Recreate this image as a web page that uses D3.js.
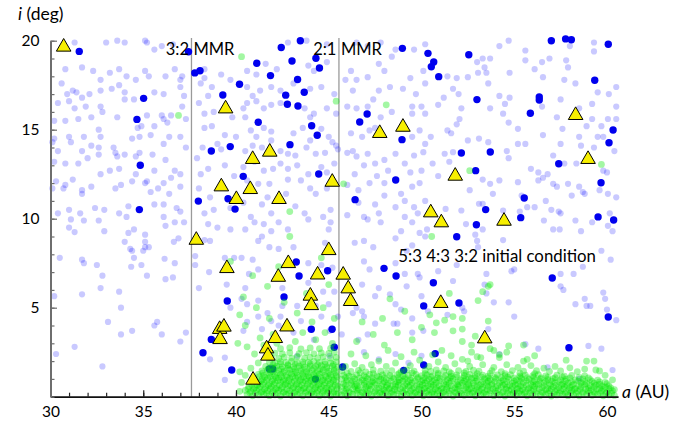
<!DOCTYPE html>
<html>
<head>
<meta charset="utf-8">
<script src="https://cdn.jsdelivr.net/npm/d3@7"></script>
<style>
  html, body { margin: 0; padding: 0; background: #fff; }
  svg { display: block; font-family: Lato, "Open Sans", sans-serif; }
</style>
</head>
<body>
<svg id="chart" width="690" height="421"></svg>
<script>
// Semi-major axis a (AU) vs inclination i (deg)

const xTicks = [30, 35, 40, 45, 50, 55, 60];
const yTicks = [5, 10, 15, 20];

// mean-motion resonance locations (AU)
const resonances = [
  { name: "3:2", a: 37.6 },
  { name: "2:1", a: 45.55 }
];

// background population (faint blue)
const lightBlue = [
[31.3,19.9],[33.0,19.9],[33.6,20.0],[34.0,19.9],[35.1,20.0],[35.2,19.9],[35.6,19.5],[36.0,19.7],[36.6,19.8],[30.8,18.4],[31.7,18.5],[32.3,18.3],[32.7,17.8],[33.2,18.2],[33.7,18.4],[34.1,18.0],[34.6,17.8],[35.1,18.3],[35.3,18.0],[36.2,18.0],[36.7,18.4],[37.0,17.8],[37.1,18.0],[30.6,17.6],[31.2,17.2],[30.9,17.0],[31.4,17.1],[31.7,16.8],[32.1,17.0],[32.7,17.2],[33.3,17.3],[33.7,17.5],[34.0,17.1],[34.5,16.7],[35.6,17.1],[36.1,17.0],[37.0,17.4],[37.2,16.9],[30.4,16.5],[31.0,16.6],[31.3,16.2],[31.9,16.3],[32.7,16.3],[34.0,16.7],
[35.2,15.8],[36.0,15.8],[36.1,15.6],[36.5,15.8],[37.1,16.3],[37.3,15.6],[30.2,15.5],[30.8,15.5],[31.5,15.6],[32.2,15.7],[32.8,16.0],[33.6,15.7],[34.7,15.1],[34.9,15.2],[35.6,15.2],[36.3,15.4],[32.6,15.0],[31.8,14.6],[31.0,14.6],[30.2,14.5],[30.1,14.3],[30.4,13.8],[31.1,14.3],[31.7,13.8],[32.2,14.1],[32.7,14.6],[32.6,14.0],[33.4,14.0],[33.5,13.7],[34.4,14.5],[34.8,14.6],[35.4,14.7],[36.1,14.2],[36.4,14.6],[37.0,14.6],[37.3,14.0],
[30.2,13.2],[30.8,13.1],[31.5,13.1],[32.0,13.4],[32.6,13.6],[33.6,13.5],[34.0,13.6],[34.6,13.5],[34.8,13.7],[35.5,13.6],[36.2,13.3],[36.7,12.7],[30.3,12.1],[30.8,11.9],[31.2,12.2],[31.7,11.6],[32.2,11.8],[32.7,12.5],[33.2,12.7],[33.7,12.8],[34.6,12.5],[35.2,12.1],[35.6,12.7],[36.1,12.0],[36.5,12.3],[37.0,12.5],[30.1,11.7],[30.7,11.7],[31.7,11.4],[33.5,11.7],[33.8,11.9],[34.4,12.1],[35.1,12.0],[35.4,11.5],[35.8,11.7],[36.4,11.4],[37.0,11.8],[30.4,10.3],[31.0,10.5],[31.6,10.3],[32.4,10.6],[32.9,10.5],[33.7,10.3],[34.2,10.7],[35.6,10.8],[36.1,10.8],[36.8,10.6],[37.0,10.4],
[38.3,18.4],[38.3,17.9],[38.1,17.6],[39.2,18.1],[39.7,17.8],[38.7,17.4],[38.5,16.9],[38.0,16.5],[38.3,15.9],[38.8,16.0],[39.8,15.7],[38.7,15.2],[38.3,15.1],[40.0,14.6],[39.4,14.7],[39.0,14.2],[38.2,14.0],[39.2,13.9],[37.9,13.4],[38.5,12.8],[39.4,13.0],[39.9,12.4],[38.1,12.5],[38.0,11.7],[38.6,11.2],[38.8,10.5],[39.7,10.6],[38.3,10.3],
[42.8,19.9],[43.8,20.0],[44.9,19.8],[46.5,19.9],[47.1,19.7],[47.8,19.9],[48.6,19.5],[49.6,19.5],[50.2,19.8],[40.6,18.3],[41.1,18.1],[41.6,18.7],[42.2,18.4],[43.9,18.6],[44.2,18.3],[44.9,18.8],[46.2,18.3],[46.5,17.8],[45.9,17.8],[47.1,17.95],[47.7,18.7],[48.0,18.3],[48.4,19.1],[49.4,17.9],[50.1,18.3],
[40.6,17.4],[40.9,16.9],[41.3,17.2],[41.9,17.4],[42.4,17.2],[43.1,17.6],[44.0,17.3],[44.6,17.4],[45.3,17.0],[46.3,17.2],[47.4,16.7],[47.7,17.2],[48.3,17.4],[49.0,17.3],[49.7,17.0],[50.2,17.6],
[40.4,16.2],[40.6,16.5],[41.1,16.6],[41.5,16.2],[41.9,16.4],[42.4,16.5],[43.7,16.2],[44.0,15.7],[44.2,15.9],[44.9,16.2],[45.4,15.9],[46.0,16.3],[46.5,16.2],[47.1,16.3],[47.8,15.7],[48.4,16.0],[49.5,16.3],[50.0,16.3],[50.2,15.9],[49.5,15.9],
[40.5,15.7],[40.8,14.96],[41.1,14.6],[41.5,15.1],[41.9,14.9],[43.1,14.8],[43.6,15.1],[44.0,14.4],[44.6,15.05],[45.0,14.6],[45.2,14.3],[45.4,14.1],[46.2,14.8],[46.8,14.6],[47.2,14.96],[47.5,15.1],[49.5,14.6],[49.9,14.96],[50.2,14.2],
[40.5,13.8],[40.9,14.1],[41.4,14.0],[41.9,14.4],[42.4,13.8],[42.8,13.65],[43.2,13.55],[43.8,14.0],[44.3,13.65],[44.8,13.7],[45.5,13.9],[46.0,13.7],[46.3,13.8],[46.5,13.5],[47.1,13.65],[47.5,13.1],[48.0,13.3],[48.6,13.65],[49.1,13.1],[49.6,13.55],[50.1,13.74],
[40.4,12.9],[41.0,13.2],[41.5,12.7],[42.0,12.8],[42.4,13.1],[42.8,12.8],[43.3,13.0],[43.9,12.5],[44.6,12.9],[44.9,12.6],[45.3,13.1],[46.4,12.5],[46.9,13.0],[47.6,12.4],[48.2,12.7],[49.4,12.6],[50.0,12.7],
[40.6,12.15],[41.2,11.96],[41.8,11.96],[42.8,12.2],[43.5,12.15],[44.0,11.7],[44.9,11.7],[46.0,11.9],[46.6,11.6],[47.2,12.0],[48.0,12.0],[48.9,11.4],[49.5,11.8],[49.9,12.0],
[40.4,10.9],[41.4,10.8],[41.7,11.2],[42.7,11.4],[43.2,10.7],[44.3,11.4],[45.1,10.5],[46.6,10.9],[47.5,10.8],[48.0,11.3],[48.6,10.65],[49.1,11.0],[49.6,10.65],[50.2,11.0],
[40.8,10.1],[41.9,10.3],[43.7,10.3],[44.7,10.1],[46.0,10.2],[46.9,10.1],[47.7,10.3],[49.1,10.1],[49.8,10.3],
[54.2,19.7],[54.7,20.0],[55.6,19.45],[55.6,18.9],[56.1,18.4],[56.5,18.8],[56.9,19.0],[57.8,18.9],[57.9,18.5],[58.0,19.7],[59.3,19.9],[59.3,19.4],[53.3,19.0],[53.7,19.0],[53.0,18.8],[53.4,18.5],[53.05,18.2],[53.5,18.2],[51.4,18.0],[51.9,17.9],[52.5,17.95],[53.6,17.6],[54.75,18.2],[56.55,17.95],[57.7,17.8],[58.3,17.6],[59.5,17.1],[60.1,17.0],[60.5,17.4],
[51.2,16.8],[51.7,17.3],[52.0,17.0],[54.2,16.9],[54.75,16.8],[50.9,16.4],[52.15,16.2],[53.7,16.2],[54.5,16.45],[56.5,16.3],[57.5,16.7],[57.3,15.7],[58.5,16.2],[59.2,16.45],[60.5,16.3],[60.5,15.6],[52.05,15.6],[51.9,15.3],[54.4,15.9],[55.2,15.05],[57.6,15.05],[58.5,14.6],[58.9,15.2],[59.2,15.6],[59.7,15.2],[59.5,14.6],[59.8,14.6],[60.05,15.6],
[50.5,14.6],[51.4,14.96],[51.6,14.8],[52.5,14.4],[53.1,14.5],[53.6,14.3],[54.7,15.4],[55.2,14.2],[55.6,14.2],[56.55,14.7],[57.5,14.2],[58.6,14.1],[59.3,14.0],[60.4,13.8],[51.25,13.65],[51.7,13.74],[54.6,13.8],[54.7,13.4],[55.9,12.8],[56.3,12.6],[57.1,13.55],[57.7,13.1],[58.35,13.1],[59.8,12.7],[60.0,12.6],[50.6,13.1],[50.9,12.4],[51.5,13.2],
[53.3,12.2],[53.7,11.96],[54.2,12.15],[55.2,12.05],[56.3,12.15],[56.55,12.3],[56.8,12.5],[57.1,11.96],[57.3,11.8],[57.9,11.96],[58.5,11.8],[58.7,11.5],[59.6,11.6],[60.05,11.4],[52.6,11.6],[53.85,11.4],[55.4,11.3],[55.7,10.65],[56.1,10.65],[56.7,11.0],[57.0,10.5],[57.4,10.4],[58.1,11.3],[58.8,11.4],[60.5,11.2],[51.3,10.55],[52.15,10.46],[53.1,10.84],[53.3,10.84],[54.4,10.46],[55.3,10.4],[57.5,10.3],[60.15,10.3],
[31.1,9.96],[31.8,9.9],[32.6,9.9],[34.1,10.1],[36.1,10.1],[36.7,9.8],[37.2,9.8],[38.5,9.7],[39.0,9.5],[39.7,9.4],[31.0,9.5],[31.3,9.25],[32.9,9.3],[34.2,9.2],[34.5,9.4],[35.1,9.1],[36.2,9.6],[36.9,8.9],[36.65,8.7],[34.0,8.7],[34.3,8.3],[34.4,8.2],[35.1,8.7],[35.1,8.4],[35.3,8.4],[35.0,8.2],[34.5,7.8],[36.15,7.75],[36.7,7.5],[34.35,7.3],[34.9,7.4],[32.5,7.4],[31.7,7.7],[31.8,7.5],[30.5,7.8],[37.8,7.9],[37.8,7.4],[38.3,8.8],[38.6,8.75],[39.4,7.8],[39.9,7.8],
[32.8,6.8],[35.2,6.8],[36.2,6.6],[36.6,6.7],[32.7,6.1],[33.7,5.9],[31.7,5.75],[30.2,5.65],[38.0,6.1],[39.5,6.3],[33.8,5.0],[39.7,5.0],[33.1,4.2],[35.6,4.0],[35.75,4.2],[34.4,3.7],[33.8,3.5],[36.0,3.5],[37.3,3.6],[37.0,3.1],[31.3,2.8],[30.3,2.4],[38.6,2.1],[39.4,2.2],[32.8,1.7],[39.4,0.94],[38.55,7.0],
[40.5,9.4],[41.0,9.8],[41.5,9.7],[41.9,9.3],[42.3,9.8],[42.8,9.4],[43.9,9.96],[45.0,9.4],[45.1,9.8],[47.1,9.96],[47.8,9.8],[48.9,9.3],[49.5,9.8],[49.9,9.2],[50.3,9.4],[41.2,8.75],[41.4,9.0],[41.8,8.4],[40.9,7.7],[40.3,7.8],[42.3,8.3],[43.1,8.4],[44.8,8.65],[46.4,8.65],[46.9,8.75],[47.4,8.4],[48.6,8.9],[49.2,8.2],[49.5,8.5],[50.2,9.0],
[40.7,6.9],[41.2,7.15],[43.9,7.5],[44.6,7.4],[45.2,7.25],[46.9,7.6],[47.2,7.15],[48.6,7.5],[49.1,6.9],[49.8,6.9],[49.9,6.7],[40.5,6.1],[42.5,6.1],[43.9,6.4],[44.7,5.9],[45.3,5.9],[46.8,6.3],[47.7,6.1],[48.3,5.75],[49.2,6.2],[50.0,5.65],
[40.3,5.5],[40.6,5.2],[41.2,5.4],[41.7,4.7],[42.5,5.1],[43.3,5.1],[44.3,5.1],[45.0,5.2],[46.5,5.0],[46.8,4.8],[47.5,5.65],[48.6,5.2],[48.9,4.9],[40.6,4.2],[41.2,4.5],[41.9,4.25],[42.4,4.5],[43.5,4.25],[44.6,4.5],[45.5,4.5],[46.3,4.7],[46.9,4.5],[47.5,4.1],[48.5,4.1],[48.7,4.1],[49.5,4.4],[50.35,4.8],
[40.4,3.7],[41.4,3.8],[42.3,4.0],[43.1,3.6],[44.2,3.2],[45.05,3.7],[45.7,3.5],[46.6,3.2],[47.1,3.5],[49.5,3.6],[50.1,3.7],[43.3,2.3],[45.05,2.3],[46.9,2.5],[47.7,2.1],[48.6,2.4],[49.3,1.9],[50.0,2.3],
[52.4,9.7],[52.9,9.1],[53.3,9.4],[56.6,9.9],[57.1,9.4],[57.45,9.4],[58.3,9.9],[58.6,9.3],[59.2,9.8],[60.05,9.6],[60.3,9.3],[53.0,8.75],[53.05,8.4],[54.4,8.8],[59.7,8.2],[60.2,7.7],[50.9,7.05],[51.9,7.4],[53.5,6.9],[54.85,7.05],[55.0,7.15],[57.5,6.9],[58.2,6.9],[58.7,7.3],[51.7,6.5],[51.4,4.6],[52.2,5.0],[52.3,4.8],
[53.4,6.3],[53.5,5.8],[53.9,5.3],[54.7,5.3],[55.0,4.5],[53.6,3.8],[57.5,6.2],[57.65,6.0],[58.3,5.2],[58.8,5.5],[58.9,5.1],[59.1,5.1],[59.8,5.85],[59.9,5.5],[60.0,4.9],[60.5,4.3],[55.6,2.95],[56.3,2.7],[54.2,2.4],[59.0,2.85],[59.7,2.7],[56.8,1.65],[60.3,1.5],[58.5,1.0]
];

// selected objects (solid blue)
const darkBlue = [
[31.55,19.4],[37.44,19.38],[37.78,18.19],[38.06,18.31],[40.19,17.55],[39.29,16.95],[35.02,16.76],[34.66,15.58],[39.69,14.05],[38.67,13.8],[34.84,13.0],[37.97,10.99],[39.57,11.12],[39.95,10.54],[34.79,10.51],
[43.47,20.0],[42.44,19.62],[48.97,19.57],[41.12,18.73],[43.02,18.86],[44.31,19.01],[44.5,18.47],[41.86,18.04],[43.32,17.82],[43.68,17.1],[42.68,16.94],[42.77,16.43],[43.34,16.33],[41.2,15.42],[44.08,15.22],[44.38,14.69],[42.91,14.16],[47.07,15.88],[46.67,15.43],[48.95,14.44],[40.39,12.38],[44.46,12.51],[48.61,12.17],[46.42,11.07],
[50.35,19.29],[50.66,18.8],[50.53,18.54],[50.93,17.98],[52.55,19.21],[57.0,20.0],[57.77,20.1],[58.08,20.05],[60.07,19.8],[59.34,17.78],[52.99,16.69],[56.35,16.84],[56.35,16.67],[55.87,15.92],[60.33,14.98],[60.11,14.27],[52.15,13.69],[53.71,13.75],[57.4,13.09],[52.92,12.7],[59.68,12.02],[55.54,11.16],[53.46,10.51],[59.52,10.1],[55.35,10.06],[52.96,9.66],[51.9,8.99],[60.36,9.93],[50.64,6.4],[52.02,5.26],[57.05,6.67],[60.07,4.48],[57.95,2.75],[50.74,2.42],
[43.25,7.57],[43.4,6.78],[44.94,7.08],[42.59,5.6],[47.98,7.21],[48.63,6.78],[50.12,5.1],[44.06,3.79],[45.18,3.79],[45.3,2.78],[45.75,1.67],[41.8,1.56],[41.98,1.56],[44.28,0.99],[49.04,1.48],[50.12,1.78],[39.53,5.38],[38.67,3.22],[38.22,2.47],[39.77,1.5]
];

// low-inclination population (green)
const green = [
[45.7,0.1],[46.0,0.05],[46.3,0.14],[46.7,0.08],[47.0,0.12],[47.3,0.04],[47.6,0.1],[47.9,0.15],[48.2,0.06],[48.5,0.11],[48.9,0.03],[49.2,0.13],[49.5,0.07],[49.8,0.12],[50.1,0.05],[50.4,0.1],[50.7,0.14],[51.0,0.06],[51.3,0.1],[51.7,0.04],[52.0,0.12],[52.3,0.08],[52.6,0.15],[52.9,0.05],[53.2,0.1],[53.5,0.13],[53.9,0.06],[54.2,0.1],[54.5,0.04],[54.8,0.12],[55.1,0.08],[55.4,0.14],[55.7,0.05],[56.0,0.1],[56.4,0.07],[56.7,0.13],[57.0,0.04],[57.3,0.1],[57.6,0.15],[57.9,0.06],[58.2,0.1],[58.5,0.05],[58.9,0.12],[59.2,0.08],[59.5,0.14],[59.8,0.05],[60.1,0.1],[60.4,0.07],
[45.85,0.2],[46.15,0.22],[46.5,0.18],[46.85,0.21],[47.15,0.19],[47.45,0.23],[47.75,0.18],[48.05,0.21],[48.35,0.2],[48.7,0.17],[49.05,0.22],[49.35,0.19],[49.65,0.21],[49.95,0.18],[50.25,0.22],[50.55,0.2],[50.85,0.17],[51.15,0.21],[51.5,0.19],[51.85,0.22],[52.15,0.18],[52.45,0.21],[52.75,0.2],[53.05,0.23],[53.35,0.18],[53.7,0.21],[54.05,0.19],[54.35,0.22],[54.65,0.18],[54.95,0.2],[55.25,0.22],[55.55,0.19],[55.85,0.21],[56.2,0.18],[56.55,0.22],[56.85,0.2],[57.15,0.17],[57.45,0.21],[57.75,0.19],[58.05,0.22],[58.35,0.18],[58.7,0.2],[59.05,0.22],[59.35,0.19],[59.65,0.21],[59.95,0.18],[60.25,0.2],
[45.8,0.32],[46.1,0.28],[46.5,0.35],[46.8,0.25],[47.1,0.33],[47.5,0.3],[47.8,0.26],[48.0,0.36],[48.4,0.29],[48.7,0.34],[49.0,0.27],[49.4,0.32],[49.7,0.25],[50.0,0.35],[50.3,0.3],[50.6,0.27],[50.9,0.34],[51.2,0.29],[51.5,0.33],[51.8,0.26],[52.1,0.31],[52.5,0.36],[52.8,0.28],[53.1,0.33],[53.4,0.26],[53.7,0.34],[54.0,0.3],[54.4,0.27],[54.7,0.35],[55.0,0.29],[55.3,0.32],[55.6,0.26],[55.9,0.35],[56.2,0.3],[56.5,0.27],[56.9,0.34],[57.2,0.29],[57.5,0.33],[57.8,0.26],[58.1,0.35],[58.4,0.3],[58.7,0.27],[59.0,0.34],[59.3,0.28],[59.7,0.32],[60.0,0.26],[60.3,0.33],
[45.95,0.42],[46.3,0.44],[46.6,0.4],[46.95,0.43],[47.25,0.41],[47.6,0.45],[47.95,0.4],[48.25,0.43],[48.55,0.41],[48.85,0.44],[49.15,0.4],[49.5,0.43],[49.85,0.41],[50.15,0.45],[50.45,0.4],[50.75,0.43],[51.05,0.41],[51.35,0.44],[51.65,0.4],[51.95,0.43],[52.3,0.41],[52.6,0.45],[52.95,0.4],[53.25,0.43],[53.55,0.41],[53.85,0.44],[54.15,0.4],[54.55,0.43],[54.85,0.41],[55.15,0.44],[55.45,0.4],[55.75,0.43],[56.05,0.41],[56.35,0.45],[56.7,0.4],[57.0,0.43],[57.3,0.41],[57.65,0.44],[57.95,0.4],[58.25,0.43],[58.55,0.41],[58.85,0.44],[59.15,0.4],[59.45,0.43],[59.8,0.41],[60.1,0.44],[60.4,0.4],
[45.7,0.55],[46.0,0.5],[46.4,0.57],[46.6,0.48],[47.0,0.53],[47.3,0.58],[47.7,0.5],[48.1,0.55],[48.3,0.47],[48.6,0.56],[49.0,0.52],[49.3,0.58],[49.6,0.49],[49.9,0.54],[50.2,0.5],[50.5,0.57],[50.8,0.52],[51.1,0.48],[51.4,0.55],[51.8,0.5],[52.0,0.58],[52.4,0.53],[52.7,0.48],[53.0,0.56],[53.3,0.51],[53.6,0.57],[54.0,0.49],[54.3,0.55],[54.6,0.52],[54.9,0.58],[55.2,0.48],[55.5,0.54],[55.8,0.5],[56.1,0.57],[56.5,0.52],[56.8,0.47],[57.1,0.55],[57.4,0.5],[57.7,0.57],[58.0,0.52],[58.3,0.47],[58.6,0.55],[59.0,0.5],[59.3,0.56],[59.6,0.48],[59.9,0.53],[60.2,0.5],
[45.9,0.64],[46.25,0.66],[46.55,0.62],[46.9,0.65],[47.2,0.63],[47.55,0.67],[47.85,0.62],[48.15,0.65],[48.45,0.63],[48.75,0.66],[49.1,0.62],[49.4,0.65],[49.75,0.63],[50.05,0.67],[50.35,0.62],[50.65,0.65],[50.95,0.63],[51.3,0.66],[51.6,0.62],[51.95,0.65],[52.25,0.63],[52.55,0.67],[52.85,0.62],[53.15,0.65],[53.5,0.63],[53.8,0.66],[54.1,0.62],[54.4,0.65],[54.75,0.63],[55.05,0.66],[55.35,0.62],[55.65,0.65],[56.0,0.63],[56.3,0.67],[56.6,0.62],[56.95,0.65],[57.25,0.63],[57.55,0.66],[57.85,0.62],[58.15,0.65],[58.5,0.63],[58.8,0.66],[59.1,0.62],[59.4,0.65],[59.75,0.6],[60.1,0.62],
[45.8,0.74],[46.2,0.78],[46.5,0.72],[46.9,0.77],[47.2,0.7],[47.5,0.79],[47.9,0.73],[48.2,0.76],[48.6,0.7],[48.8,0.8],[49.2,0.74],[49.5,0.78],[49.9,0.71],[50.2,0.77],[50.5,0.73],[50.8,0.79],[51.2,0.72],[51.5,0.76],[51.9,0.7],[52.2,0.78],[52.5,0.73],[52.8,0.77],[53.2,0.71],[53.5,0.79],[53.8,0.74],[54.2,0.77],[54.5,0.7],[54.9,0.76],[55.2,0.72],[55.5,0.79],[55.9,0.74],[56.2,0.71],[56.6,0.77],[56.9,0.73],[57.2,0.79],[57.6,0.72],[57.9,0.76],[58.2,0.71],[58.6,0.78],[58.9,0.73],[59.3,0.76],[59.6,0.7],[60.0,0.74],
[45.95,0.86],[46.3,0.88],[46.65,0.84],[47.0,0.87],[47.35,0.85],[47.7,0.89],[48.0,0.84],[48.35,0.87],[48.7,0.85],[49.0,0.88],[49.3,0.84],[49.65,0.87],[50.0,0.85],[50.3,0.89],[50.6,0.84],[50.95,0.87],[51.3,0.85],[51.6,0.88],[51.95,0.84],[52.3,0.87],[52.6,0.85],[52.95,0.88],[53.3,0.84],[53.6,0.87],[53.95,0.85],[54.3,0.88],[54.6,0.84],[55.0,0.87],[55.3,0.85],[55.65,0.88],[56.0,0.84],[56.35,0.87],[56.7,0.85],[57.05,0.88],[57.4,0.84],[57.75,0.87],[58.1,0.85],[58.45,0.88],[58.8,0.84],[59.2,0.86],[59.6,0.83],[59.9,0.8],
[45.7,0.98],[46.0,0.94],[46.4,1.0],[46.8,0.95],[47.1,1.02],[47.4,0.93],[47.8,0.99],[48.1,0.96],[48.5,1.02],[48.8,0.94],[49.1,1.0],[49.4,0.95],[49.8,1.01],[50.1,0.93],[50.4,0.99],[50.7,0.95],[51.0,1.02],[51.4,0.96],[51.7,1.0],[52.1,0.94],[52.4,0.99],[52.7,1.03],[53.0,0.95],[53.4,1.0],[53.7,0.96],[54.0,1.02],[54.4,0.94],[54.7,0.99],[55.1,0.95],[55.4,1.01],[55.8,0.97],[56.1,0.93],[56.4,1.0],[56.8,0.96],[57.1,1.02],[57.5,0.94],[57.8,0.98],[58.3,0.95],[58.7,1.0],[59.1,0.96],[59.5,0.93],
[45.9,1.08],[46.3,1.1],[46.65,1.06],[47.0,1.09],[47.35,1.07],[47.7,1.11],[48.0,1.06],[48.4,1.09],[48.75,1.07],[49.1,1.1],[49.45,1.06],[49.8,1.09],[50.15,1.07],[50.5,1.11],[50.85,1.06],[51.2,1.09],[51.55,1.07],[51.9,1.1],[52.25,1.06],[52.55,1.09],[52.9,1.07],[53.25,1.1],[53.6,1.06],[53.95,1.09],[54.3,1.07],[54.65,1.1],[55.0,1.06],[55.35,1.09],[55.7,1.07],[56.05,1.1],[56.45,1.06],[56.8,1.09],[57.2,1.07],[57.6,1.1],[58.0,1.06],[58.5,1.08],[59.0,1.05],
[45.8,1.2],[46.1,1.16],[46.5,1.23],[46.9,1.18],[47.2,1.25],[47.6,1.17],[47.9,1.22],[48.3,1.19],[48.7,1.24],[49.0,1.16],[49.3,1.21],[49.7,1.25],[50.0,1.18],[50.3,1.22],[50.6,1.17],[50.9,1.24],[51.3,1.2],[51.6,1.15],[51.9,1.23],[52.3,1.19],[52.6,1.25],[52.9,1.17],[53.3,1.21],[53.6,1.16],[54.1,1.22],[54.5,1.18],[54.8,1.24],[55.3,1.16],[55.6,1.21],[56.0,1.18],[56.3,1.24],[56.7,1.17],[57.3,1.21],[57.7,1.16],[58.1,1.2],[58.8,1.17],
[46.0,1.32],[46.7,1.34],[47.4,1.3],[48.1,1.33],[48.8,1.31],[49.5,1.34],[50.2,1.3],[50.9,1.33],[51.6,1.31],[52.3,1.34],[53.0,1.3],[53.7,1.32],[54.5,1.3],[55.3,1.33],[56.1,1.3],
[45.7,1.45],[46.2,1.42],[46.6,1.48],[47.0,1.4],[47.4,1.5],[47.8,1.43],[48.4,1.47],[48.9,1.41],[49.2,1.5],[49.6,1.44],[50.2,1.48],[50.5,1.42],[50.8,1.5],[51.2,1.45],[51.5,1.4],[52.0,1.47],[52.4,1.42],[52.8,1.49],[53.1,1.43],[53.8,1.46],[54.3,1.41],[54.9,1.47],[55.5,1.43],[56.2,1.46],[56.9,1.42],[57.5,1.45],[58.4,1.41],
[45.9,1.7],[46.4,1.85],[46.8,1.65],[47.3,1.8],[47.7,2.0],[48.1,1.7],[48.6,1.9],[49.4,1.75],[49.9,2.05],[50.4,1.7],[50.9,1.95],[51.3,1.65],[51.8,1.85],[52.2,2.1],[52.6,1.7],[53.3,1.8],[53.9,1.65],[54.6,1.8],[55.2,1.65],[55.9,1.75],[56.6,1.6],[57.2,1.7],[58.0,1.62],[58.8,1.55],[59.6,1.45],[59.9,1.2],[60.3,0.95],
[46.2,2.4],[47.0,2.3],[48.2,2.6],[48.9,2.25],[49.6,2.5],[50.6,2.35],[51.1,2.6],[51.6,2.3],[52.7,2.5],[53.2,2.2],[54.2,2.2],[56.1,2.3],[57.8,2.05],[59.3,2.0],
[46.5,3.1],[47.4,3.5],[48.0,2.9],[48.7,3.6],[49.5,3.2],[47.9,4.4],[49.1,4.8],[46.8,4.2],[50.0,3.9],[48.3,5.5],
[50.45,4.6],[50.8,4.15],[51.25,4.3],[51.7,4.5],[52.2,3.8],[51.7,3.7],[50.7,3.6],[52.9,3.4],[52.7,2.9],[53.6,4.25],[53.7,6.3],[53.05,5.4],[53.3,5.9],[52.2,4.4],[52.2,3.1],[53.7,2.7],[53.9,2.6],[54.6,2.5],[54.2,2.35],[53.0,2.25],[52.5,2.0],[55.5,2.0],[58.9,2.0],[59.4,1.5],[55.5,2.9],[54.7,2.85],[55.7,2.1],[51.0,5.2],[51.5,5.8],
[40.6,0.12],[40.9,0.05],[41.2,0.1],[41.5,0.14],[41.8,0.06],[42.1,0.11],[42.4,0.04],[42.7,0.13],[43.0,0.08],[43.3,0.12],[43.6,0.05],[43.9,0.1],[44.2,0.14],[44.5,0.06],[44.8,0.11],[45.1,0.04],[45.4,0.13],
[40.75,0.22],[41.05,0.2],[41.35,0.23],[41.65,0.19],[41.95,0.22],[42.25,0.2],[42.55,0.23],[42.85,0.19],[43.15,0.21],[43.45,0.2],[43.75,0.23],[44.05,0.19],[44.35,0.22],[44.65,0.2],[44.95,0.23],[45.25,0.19],[45.5,0.21],
[40.5,0.35],[40.8,0.3],[41.1,0.37],[41.4,0.28],[41.7,0.34],[42.0,0.3],[42.3,0.36],[42.6,0.27],[42.9,0.33],[43.2,0.29],[43.5,0.36],[43.8,0.3],[44.1,0.27],[44.4,0.35],[44.7,0.3],[45.0,0.34],[45.3,0.28],
[40.65,0.45],[40.95,0.43],[41.25,0.46],[41.55,0.42],[41.85,0.45],[42.15,0.44],[42.45,0.46],[42.75,0.42],[43.05,0.45],[43.35,0.43],[43.65,0.46],[43.95,0.42],[44.25,0.45],[44.55,0.43],[44.85,0.46],[45.15,0.42],[45.45,0.45],
[40.7,0.56],[41.0,0.5],[41.3,0.58],[41.6,0.52],[41.9,0.57],[42.2,0.49],[42.5,0.55],[42.8,0.6],[43.1,0.51],[43.4,0.56],[43.7,0.5],[44.0,0.58],[44.3,0.52],[44.6,0.56],[44.9,0.49],[45.2,0.55],[45.5,0.6],
[40.85,0.67],[41.15,0.65],[41.45,0.68],[41.75,0.64],[42.05,0.67],[42.35,0.65],[42.65,0.68],[42.95,0.64],[43.25,0.67],[43.55,0.65],[43.85,0.68],[44.15,0.64],[44.45,0.67],[44.75,0.65],[45.05,0.68],[45.35,0.64],
[40.9,0.8],[41.2,0.75],[41.5,0.81],[41.8,0.74],[42.1,0.79],[42.4,0.83],[42.7,0.76],[43.0,0.8],[43.3,0.74],[43.6,0.82],[43.9,0.77],[44.2,0.8],[44.5,0.73],[44.8,0.79],[45.1,0.76],[45.4,0.82],
[41.05,0.9],[41.35,0.88],[41.65,0.91],[41.95,0.87],[42.25,0.9],[42.55,0.88],[42.85,0.91],[43.15,0.87],[43.45,0.9],[43.75,0.88],[44.05,0.91],[44.35,0.87],[44.65,0.9],[44.95,0.88],[45.25,0.91],
[41.0,1.02],[41.4,0.97],[41.7,1.03],[42.0,0.98],[42.3,1.04],[42.6,0.96],[42.9,1.01],[43.2,1.05],[43.5,0.97],[43.8,1.02],[44.1,0.98],[44.4,1.04],[44.7,0.96],[45.0,1.01],[45.3,0.97],
[41.25,1.12],[41.55,1.1],[41.85,1.13],[42.15,1.09],[42.45,1.12],[42.75,1.1],[43.05,1.13],[43.35,1.09],[43.65,1.12],[43.95,1.1],[44.25,1.13],[44.55,1.09],[44.85,1.12],[45.15,1.1],[45.45,1.13],
[41.2,1.25],[41.5,1.2],[41.8,1.26],[42.1,1.19],[42.4,1.24],[42.7,1.2],[43.0,1.27],[43.3,1.21],[43.6,1.25],[43.9,1.18],[44.2,1.23],[44.5,1.27],[44.8,1.2],[45.1,1.24],[45.4,1.19],
[41.45,1.34],[41.85,1.36],[42.2,1.32],[42.55,1.35],[42.9,1.33],[43.25,1.36],[43.6,1.32],[43.95,1.35],[44.3,1.33],[44.65,1.36],[45.0,1.32],[45.35,1.35],
[41.4,1.45],[41.7,1.5],[42.0,1.42],[42.3,1.48],[42.6,1.44],[42.9,1.5],[43.2,1.43],[43.5,1.47],[43.8,1.41],[44.1,1.49],[44.4,1.44],[44.7,1.5],[45.0,1.43],[45.3,1.47],
[41.75,1.58],[42.1,1.6],[42.45,1.56],[42.8,1.59],[43.15,1.57],[43.5,1.6],[43.85,1.56],[44.2,1.59],[44.55,1.57],[44.9,1.6],[45.3,1.57],
[41.6,1.7],[41.9,1.66],[42.2,1.72],[42.5,1.68],[42.8,1.74],[43.1,1.67],[43.4,1.72],[43.7,1.66],[44.0,1.73],[44.3,1.69],[44.6,1.74],[44.9,1.67],[45.2,1.71],[45.5,1.68],
[42.0,1.82],[42.4,1.84],[42.8,1.8],[43.2,1.83],[43.6,1.81],[44.0,1.84],[44.4,1.8],[44.8,1.83],[45.25,1.81],
[41.8,1.95],[42.1,1.9],[42.4,1.97],[42.7,1.92],[43.0,1.98],[43.3,1.91],[43.6,1.96],[43.9,1.92],[44.2,1.99],[44.5,1.93],[44.8,1.97],[45.1,1.9],[45.4,1.96],
[41.9,2.2],[42.3,2.15],[42.6,2.22],[43.0,2.17],[43.3,2.23],[43.7,2.16],[44.0,2.21],[44.4,2.18],[44.7,2.24],[45.1,2.17],[45.4,2.21],
[42.1,2.45],[42.5,2.4],[42.9,2.47],[43.4,2.42],[43.8,2.48],[44.2,2.41],[44.6,2.46],[45.0,2.43],[45.3,2.5],
[42.4,2.7],[42.9,2.75],[43.5,2.68],[44.0,2.74],[44.5,2.7],[45.1,2.72],
[41.2,1.9],[40.8,1.6],[40.5,1.2],[40.3,0.8],[40.2,0.3],[41.0,2.4],[41.5,2.9],[42.2,3.0],[43.2,3.1],[44.3,3.2],[45.2,3.0],[42.0,3.5],[43.6,3.6],[44.8,3.6],[41.3,3.3],[40.6,2.8],[42.8,4.0],[44.1,4.2],[45.3,4.4],[41.8,4.4],[40.5,4.0],[43.3,4.7],[41.1,5.0],[42.6,5.3],[44.7,5.0],[40.4,5.6],[43.8,5.8],[45.0,6.3],[41.7,6.2],[40.9,6.8],[42.3,7.3],[44.6,7.8],[42.9,9.0],
[39.7,7.6],[40.2,4.6],[40.1,3.0],[40.2,1.4],
[36.9,15.8],[40.3,19.1],[45.4,16.6],[48.1,16.4],[45.8,11.96],[42.9,10.4],[59.7,13.05],[52.6,12.7],[50.55,9.0],[53.6,6.2]
];

// 5:3, 4:3 and 3:2 initial condition (yellow triangles)
const initial = [
[30.71,19.65],[39.44,16.18],[39.21,11.8],[40.02,11.09],[40.9,13.34],[41.82,13.75],[40.77,11.65],[42.32,11.09],[45.19,12.06],[47.75,14.8],[49.0,15.15],[58.31,15.81],[58.98,13.34],[51.82,12.4],[50.5,10.34],[51.07,9.78],[54.45,9.87],[51.04,5.25],[53.41,3.26],
[37.86,8.8],[39.51,7.21],[39.12,3.79],[39.35,3.92],[39.14,3.22],[45.0,8.22],[42.82,7.49],[42.28,6.72],[44.4,6.85],[45.78,6.84],[46.05,6.07],[44.01,5.66],[44.06,5.13],[46.18,5.36],[42.75,3.93],[42.12,3.28],[41.65,2.7],[41.72,2.29],[40.92,0.94]
];

const svg = d3.select("#chart");
const x = d3.scaleLinear().domain([30, 60.6]).range([50.5, 618.1]);
const y = d3.scaleLinear().domain([0, 20]).range([396.7, 40.7]);

// resonance lines
svg.append("g").selectAll("line").data(resonances).join("line")
  .attr("x1", d => x(d.a)).attr("x2", d => x(d.a))
  .attr("y1", y(20.15)).attr("y2", y(0))
  .attr("stroke", "#9a9a9a").attr("stroke-width", 1.3);

// point layers
svg.append("g").selectAll("circle").data(lightBlue).join("circle")
  .attr("cx", d => x(d[0])).attr("cy", d => y(d[1])).attr("r", 3.1)
  .attr("fill", "#0000ff").attr("fill-opacity", 0.21);

svg.append("g").selectAll("circle").data(darkBlue).join("circle")
  .attr("cx", d => x(d[0])).attr("cy", d => y(d[1])).attr("r", 3.7)
  .attr("fill", "#0000ee");

svg.append("g").selectAll("circle").data(green).join("circle")
  .attr("cx", d => x(d[0])).attr("cy", d => y(d[1])).attr("r", 3.4)
  .attr("fill", "#00ea00").attr("fill-opacity", 0.36);

const tri = d3.symbol().type(d3.symbolTriangle).size(92);
svg.append("g").selectAll("path").data(initial).join("path")
  .attr("d", tri)
  .attr("transform", d => `translate(${x(d[0])},${y(d[1])})`)
  .attr("fill", "#f7ef00").attr("stroke", "#000").attr("stroke-width", 1);

// axes
const gx = svg.append("g").attr("transform", `translate(0,${y(0)})`);
gx.call(d3.axisBottom(x).tickValues(d3.range(30, 61)).tickSizeInner(-4).tickSizeOuter(0).tickFormat(""));
gx.append("g").call(d3.axisBottom(x).tickValues(xTicks).tickSizeInner(-6.5).tickSizeOuter(0).tickPadding(9))
  .call(g => g.select(".domain").remove());
gx.selectAll(".domain").attr("stroke", "#111").attr("stroke-width", 1.8);
gx.selectAll(".tick line").attr("stroke", "#222").attr("stroke-width", 1.2);
gx.selectAll("text").attr("font-size", 15.5).attr("fill", "#000").attr("font-family", "Lato, sans-serif");

const gy = svg.append("g").attr("transform", `translate(${x(30)},0)`);
gy.call(d3.axisLeft(y).tickValues(d3.range(0, 21)).tickSizeInner(-4).tickSizeOuter(0).tickFormat(""));
gy.append("g").call(d3.axisLeft(y).tickValues(yTicks).tickSizeInner(-6.5).tickSizeOuter(0).tickPadding(11))
  .call(g => g.select(".domain").remove());
gy.selectAll(".domain").attr("stroke", "#6e6e6e").attr("stroke-width", 2);
gy.selectAll(".tick line").attr("stroke", "#6e6e6e").attr("stroke-width", 1.2);
gy.selectAll("text").attr("font-size", 15.5).attr("fill", "#000").attr("font-family", "Lato, sans-serif");

// resonance labels
const lab = svg.append("g").attr("font-size", 16.5).attr("fill", "#000");
resonances.forEach(r => {
  lab.append("text").attr("x", x(r.a) - 2.5).attr("y", y(20) + 14).attr("text-anchor", "end").text(r.name);
  lab.append("text").attr("x", x(r.a) + 2).attr("y", y(20) + 14).text("MMR");
});

// legend text for the triangles
svg.append("text").attr("x", x(48.75)).attr("y", y(7.55))
  .attr("font-size", 16.8).text("5:3 4:3 3:2 initial condition");

// axis titles
const yt = svg.append("text").attr("x", 18).attr("y", 20).attr("font-size", 17.5);
yt.append("tspan").attr("font-style", "italic").text("i");
yt.append("tspan").text(" (deg)");
const xt = svg.append("text").attr("x", 622).attr("y", 398).attr("font-size", 17.5);
xt.append("tspan").attr("font-style", "italic").text("a");
xt.append("tspan").text(" (AU)");
</script>
</body>
</html>
